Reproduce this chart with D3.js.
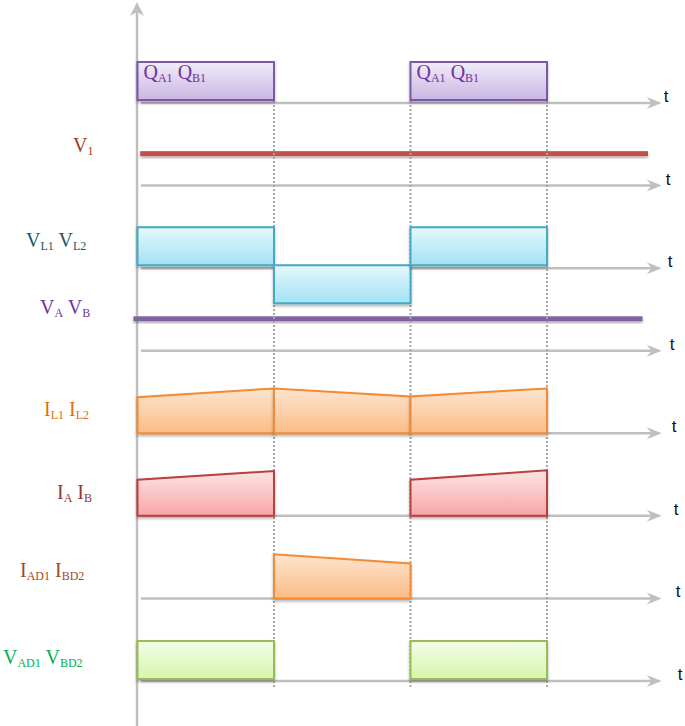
<!DOCTYPE html>
<html>
<head>
<meta charset="utf-8">
<script src="https://cdn.jsdelivr.net/npm/d3@7"></script>
<style>
  body { margin: 0; background: #fff; }
</style>
</head>
<body>
<div id="chart"></div>
<script>
// time is in units of one switching interval, 0 = start of QA1/QB1 on
const switchTimes = [1, 2, 3];
const axisSpan = [0.026, 3.84];

const rowNames = ['Q', 'V1', 'VL', 'VA', 'IL', 'IA', 'IAD', 'VAD'];

// segments: [tStart, tEnd, levelStart, levelEnd]
const qPulses   = [[0, 1, 1, 1], [2, 3, 1, 1]];
const vlPulses  = [[0, 1, 1, 1], [1, 2, -1, -1], [2, 3, 1, 1]];
const ilRamps   = [[0, 1, 0.95, 1.18], [1, 2, 1.18, 0.97], [2, 3, 0.97, 1.18]];
const iaRamps   = [[0, 1, 0.95, 1.18], [2, 3, 0.95, 1.2]];
const iadRamps  = [[1, 2, 1.16, 0.92]];
const vadPulses = [[0, 1, 1, 1], [2, 3, 1, 1]];

// constant levels: [tStart, tEnd, level]
const v1Level  = [0.02, 3.74, 0.84];
const vabLevel = [-0.03, 3.70, 0.84];

// labels as [letter, subscript] pairs
const labelQ   = [['Q', 'A1'], ['Q', 'B1']];
const labelV1  = [['V', '1']];
const labelVL  = [['V', 'L1'], ['V', 'L2']];
const labelVA  = [['V', 'A'], ['V', 'B']];
const labelIL  = [['I', 'L1'], ['I', 'L2']];
const labelIA  = [['I', 'A'], ['I', 'B']];
const labelIAD = [['I', 'AD1'], ['I', 'BD2']];
const labelVAD = [['V', 'AD1'], ['V', 'BD2']];

const width = 685, height = 726;

const svg = d3.select('#chart')
  .append('svg')
  .attr('width', width)
  .attr('height', height);

const defs = svg.append('defs');

const shadow = defs.append('filter')
  .attr('id', 'shadow')
  .attr('x', '-10%').attr('y', '-20%')
  .attr('width', '130%').attr('height', '160%');
shadow.append('feDropShadow')
  .attr('dx', 0).attr('dy', 2)
  .attr('stdDeviation', 1.6)
  .attr('flood-color', '#000')
  .attr('flood-opacity', 0.3);

function gradient(id, top, bottom) {
  const g = defs.append('linearGradient')
    .attr('id', id)
    .attr('x1', 0).attr('y1', 0).attr('x2', 0).attr('y2', 1);
  g.append('stop').attr('offset', '0%').attr('stop-color', top);
  g.append('stop').attr('offset', '100%').attr('stop-color', bottom);
}
gradient('gQ', '#f1ecf8', '#c9b6e2');
gradient('gVL', '#e6f8fd', '#a3e2f4');
gradient('gIL', '#fde5d0', '#fbbc84');
gradient('gIA', '#fde4e4', '#f8a5a5');
gradient('gVAD', '#f4fde8', '#d6f5ae');

let x = d3.scaleLinear()
  .domain([0, 3])
  .range([137.5, 547]);

let row = d3.scalePoint()
  .domain(rowNames)
  .range([103, 681]);

let amp = d3.scaleLinear()
  .domain([0, 1])
  .range([0, 38]);

const axisColor = '#bfbfbf';

// horizontal time axes
const axes = svg.append('g');
rowNames.forEach((r, i) => {
  const y = row(r);
  const x0 = x(axisSpan[0]), x1 = x(axisSpan[1]);
  axes.append('line')
    .attr('x1', x0).attr('x2', x1 - 9)
    .attr('y1', y).attr('y2', y)
    .attr('stroke', axisColor)
    .attr('stroke-width', 2.5);
  axes.append('path')
    .attr('d', `M${x1},${y} L${x1 - 15},${y - 6} L${x1 - 10},${y} L${x1 - 15},${y + 6} Z`)
    .attr('fill', axisColor);
  axes.append('text')
    .attr('x', x1 + 2 + i * 2)
    .attr('y', y - 1)
    .attr('font-family', '"Liberation Sans", Arial, sans-serif')
    .attr('font-size', 17)
    .attr('fill', '#111')
    .text('t');
});

// vertical axis
const vx = x(0) - 0.5;
axes.append('line')
  .attr('x1', vx).attr('x2', vx)
  .attr('y1', height).attr('y2', 12)
  .attr('stroke', axisColor)
  .attr('stroke-width', 2.5);
axes.append('path')
  .attr('d', `M${vx},2 L${vx - 7},16 L${vx},12 L${vx + 7},16 Z`)
  .attr('fill', axisColor);

// constant levels (thick bars)
function levelLine(r, lv, color) {
  const y = row(r) - amp(lv[2]);
  svg.append('rect')
    .attr('x', x(lv[0]))
    .attr('width', x(lv[1]) - x(lv[0]))
    .attr('y', y - 2.5)
    .attr('height', 5)
    .attr('fill', color)
    .attr('filter', 'url(#shadow)');
}
levelLine('V1', v1Level, '#c0504d');
levelLine('VA', vabLevel, '#8064a2');

// dotted switching guides
svg.append('g')
  .selectAll('line')
  .data(switchTimes)
  .enter()
  .append('line')
    .attr('x1', d => x(d)).attr('x2', d => x(d))
    .attr('y1', row('Q') - 2)
    .attr('y2', row('VAD') + 7)
    .attr('stroke', '#a6a6a6')
    .attr('stroke-width', 2)
    .attr('stroke-dasharray', '2,2');

// pulses
const line = d3.line();
function drawSegments(r, segs, fill, stroke, lift) {
  const base = row(r) - lift;
  svg.append('g')
    .selectAll('path')
    .data(segs)
    .enter()
    .append('path')
      .attr('d', d => line([
        [x(d[0]), base],
        [x(d[0]), base - amp(d[2])],
        [x(d[1]), base - amp(d[3])],
        [x(d[1]), base]
      ]) + 'Z')
      .attr('fill', `url(#${fill})`)
      .attr('stroke', stroke)
      .attr('stroke-width', 2)
      .attr('stroke-linejoin', 'miter')
      .attr('filter', 'url(#shadow)');
}
drawSegments('Q', qPulses, 'gQ', '#7b58a8', 3);
drawSegments('VL', vlPulses, 'gVL', '#43a9c6', 3);
drawSegments('IL', ilRamps, 'gIL', '#f58a33', 0);
drawSegments('IA', iaRamps, 'gIA', '#b83f3d', 0);
drawSegments('IAD', iadRamps, 'gIL', '#f58a33', 0);
drawSegments('VAD', vadPulses, 'gVAD', '#98bb56', 2);

// labels
function label(parts, px, py, color) {
  const t = svg.append('text')
    .attr('x', px).attr('y', py)
    .attr('font-family', '"Liberation Serif", "Times New Roman", serif')
    .attr('font-size', 20)
    .attr('fill', color);
  parts.forEach((p, i) => {
    t.append('tspan')
      .attr('dy', i === 0 ? 0 : -3)
      .text((i === 0 ? '' : ' ') + p[0]);
    t.append('tspan')
      .attr('font-size', 12)
      .attr('dy', 3)
      .text(p[1]);
  });
}
qPulses.forEach(d => label(labelQ, x(d[0]) + 6, row('Q') - 24, '#7030a0'));
label(labelV1, 73, row('V1') - 34, '#a33a1c');
label(labelVL, 26, row('VL') - 21, '#1e5363');
label(labelVA, 40, row('VA') - 37, '#7030a0');
label(labelIL, 44, row('IL') - 17, '#e46c0a');
label(labelIA, 57, row('IA') - 17, '#943634');
label(labelIAD, 20, row('IAD') - 21, '#a0481c');
label(labelVAD, 3, row('VAD') - 17, '#00b050');
</script>
</body>
</html>
